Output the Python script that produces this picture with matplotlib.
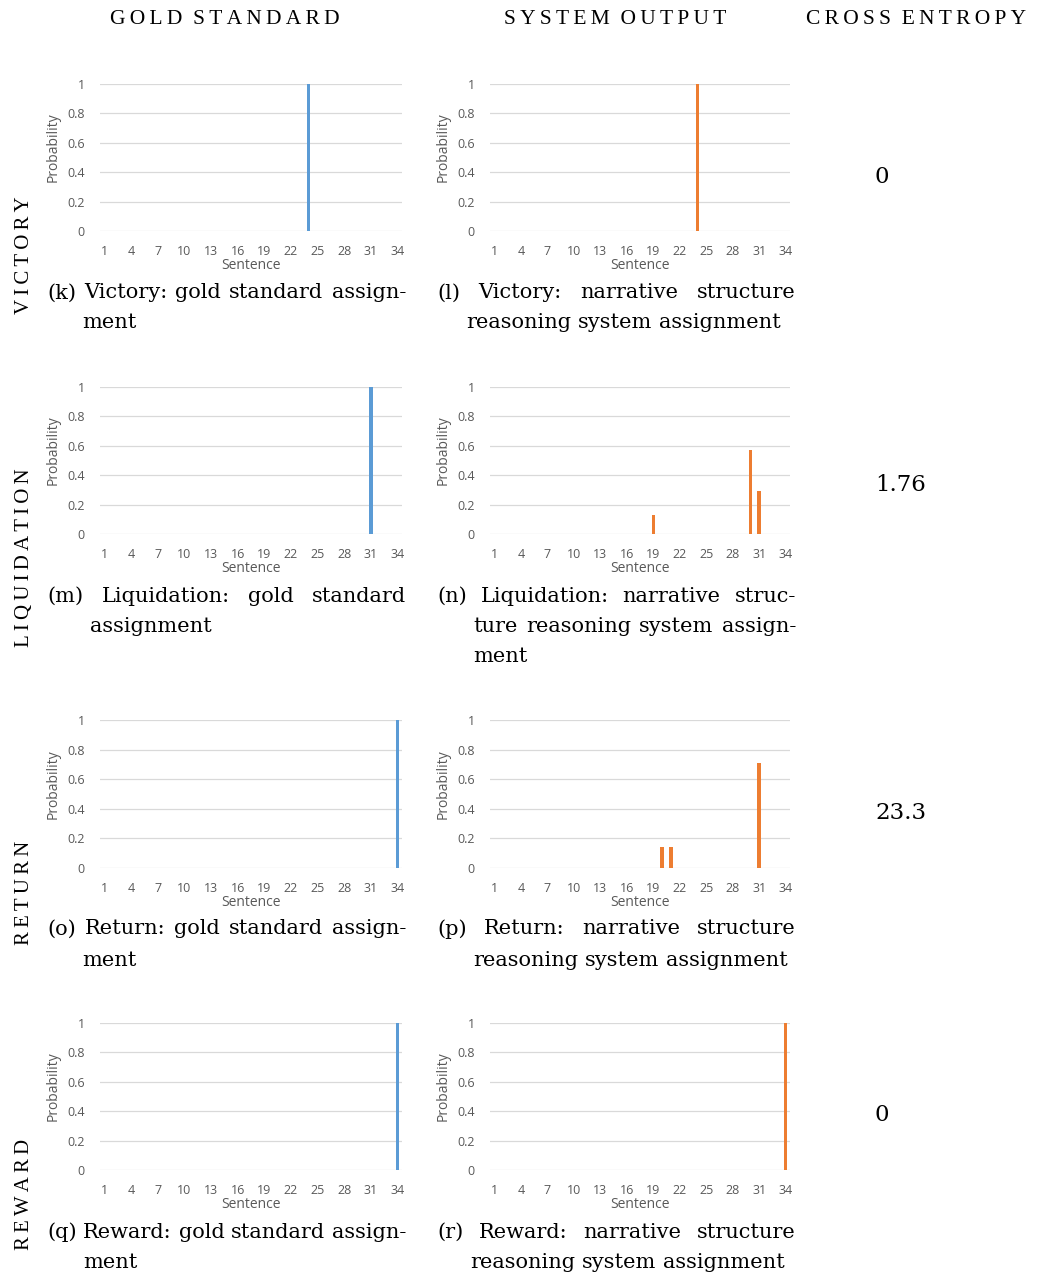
import matplotlib
matplotlib.use("Agg")
import matplotlib.pyplot as plt

# --- data ---
sentences = list(range(1, 35))
tick_sentences = list(range(1, 35, 3))
y_ticks = [0, 0.2, 0.4, 0.6, 0.8, 1]
y_tick_labels = ["0", "0.2", "0.4", "0.6", "0.8", "1"]

victory_gold_x = [24]
victory_gold_p = [1.0]
victory_sys_x = [24]
victory_sys_p = [1.0]

liquidation_gold_x = [31]
liquidation_gold_p = [1.0]
liquidation_sys_x = [19, 30, 31]
liquidation_sys_p = [0.13, 0.57, 0.29]

return_gold_x = [34]
return_gold_p = [1.0]
return_sys_x = [20, 21, 31]
return_sys_p = [0.14, 0.14, 0.71]

reward_gold_x = [34]
reward_gold_p = [1.0]
reward_sys_x = [34]
reward_sys_p = [1.0]

row_names = ["Victory", "Liquidation", "Return", "Reward"]
cross_entropy = ["0", "1.76", "23.3", "0"]
headers = ["Gold standard", "System output", "Cross entropy"]

gold_x = [victory_gold_x, liquidation_gold_x, return_gold_x, reward_gold_x]
gold_p = [victory_gold_p, liquidation_gold_p, return_gold_p, reward_gold_p]
sys_x = [victory_sys_x, liquidation_sys_x, return_sys_x, reward_sys_x]
sys_p = [victory_sys_p, liquidation_sys_p, return_sys_p, reward_sys_p]

captions_gold = [
    [("(k) Victory: gold standard assign-", True), ("ment", False)],
    [("(m) Liquidation: gold standard", True), ("assignment", False)],
    [("(o) Return: gold standard assign-", True), ("ment", False)],
    [("(q) Reward: gold standard assign-", True), ("ment", False)],
]
captions_sys = [
    [("(l) Victory: narrative structure", True), ("reasoning system assignment", False)],
    [("(n) Liquidation: narrative struc-", True), ("ture reasoning system assign-", True), ("ment", False)],
    [("(p) Return: narrative structure", True), ("reasoning system assignment", False)],
    [("(r) Reward: narrative structure", True), ("reasoning system assignment", False)],
]

BLUE = "#5B9BD5"
ORANGE = "#ED7D31"
GRID = "#D9D9D9"
TXT = "#595959"
SERIF = "DejaVu Serif"
SANS = "Open Sans"

W, H = 1043, 1280
fig = plt.figure(figsize=(W / 100, H / 100), dpi=100)

# plot areas in pixels: (top, bottom) per row, (left, right) per column
rows_px = [(84, 231), (387, 534), (720, 868), (1023, 1170)]
cols_px = [(100, 402), (490, 790)]
caption_y = [[293, 323], [596, 627, 657], [929, 960], [1232, 1263]]
row_label_y = [255, 558, 893, 1194]
ce_y = [177, 485, 813, 1115]


def make_axes(col, row):
    l, r = cols_px[col]
    t, b = rows_px[row]
    return fig.add_axes([l / W, 1 - b / H, (r - l) / W, (b - t) / H])


def style(ax):
    ax.set_xlim(0.5, 34.5)
    ax.set_ylim(0, 1)
    ax.set_yticks(y_ticks)
    ax.set_yticklabels(y_tick_labels)
    ax.set_xticks(tick_sentences)
    ax.tick_params(length=0, labelsize=9, labelcolor=TXT)
    ax.tick_params(axis="y", pad=11)
    ax.tick_params(axis="x", pad=10)
    for s in ax.spines.values():
        s.set_visible(False)
    ax.grid(axis="y", color=GRID, linewidth=0.9)
    ax.set_axisbelow(True)
    ax.set_ylabel("Probability", fontsize=10, color=TXT)
    ax.yaxis.set_label_coords(-0.13, 0.57)
    ax.set_xlabel("Sentence", fontsize=10, color=TXT, labelpad=0)
    for t in ax.get_xticklabels() + ax.get_yticklabels():
        t.set_family(SANS)
    ax.yaxis.label.set_family(SANS)
    ax.xaxis.label.set_family(SANS)


for i in range(4):
    ax = make_axes(0, i)
    ax.bar(gold_x[i], gold_p[i], width=0.38, color=BLUE)
    style(ax)
    ax = make_axes(1, i)
    ax.bar(sys_x[i], sys_p[i], width=0.38, color=ORANGE)
    style(ax)

renderer = fig.canvas.get_renderer()
CAP_FS = 15


def text_width(s):
    t = fig.text(0, 0, s, fontsize=CAP_FS, family=SERIF)
    w = t.get_window_extent(renderer).width
    t.remove()
    return w


space_w = text_width("a a") - text_width("aa")


def put_line(line, x0, x1, y, justify):
    words = line.split()
    texts = [fig.text(0, 1 - y / H, w, fontsize=CAP_FS, family=SERIF,
                      va="center", ha="left") for w in words]
    widths = [t.get_window_extent(renderer).width for t in texts]
    gap = space_w
    if justify and len(words) > 1:
        gap = (x1 - x0 - sum(widths)) / (len(words) - 1)
    x = x0
    for t, w in zip(texts, widths):
        t.set_x(x / W)
        x += w + gap


def put_caption(lines, x0, x1, ys):
    label = lines[0][0].split()[0]
    indent = x0 + text_width(label) + space_w
    for k, ((line, just), y) in enumerate(zip(lines, ys)):
        put_line(line, x0 if k == 0 else indent, x1, y, just)


for i in range(4):
    put_caption(captions_gold[i], 47, 406, caption_y[i])
    put_caption(captions_sys[i], 437, 796, caption_y[i])

    spaced = "\u2009".join(row_names[i].upper())
    fig.text(25 / W, 1 - row_label_y[i] / H, spaced, rotation=90,
             fontsize=15, family="Liberation Serif", ha="center", va="center")
    fig.text(875 / W, 1 - ce_y[i] / H, cross_entropy[i], fontsize=16.5,
             family=SERIF, ha="left", va="center")

header_x = [225, 615, 916]
for hx, h in zip(header_x, headers):
    spaced = "\u2009".join(h.upper()).replace("\u2009 \u2009", "  ")
    fig.text(hx / W, 1 - 19 / H, spaced, fontsize=15.5, family="Liberation Serif",
             ha="center", va="center")

fig.savefig("out.png", dpi=100)
